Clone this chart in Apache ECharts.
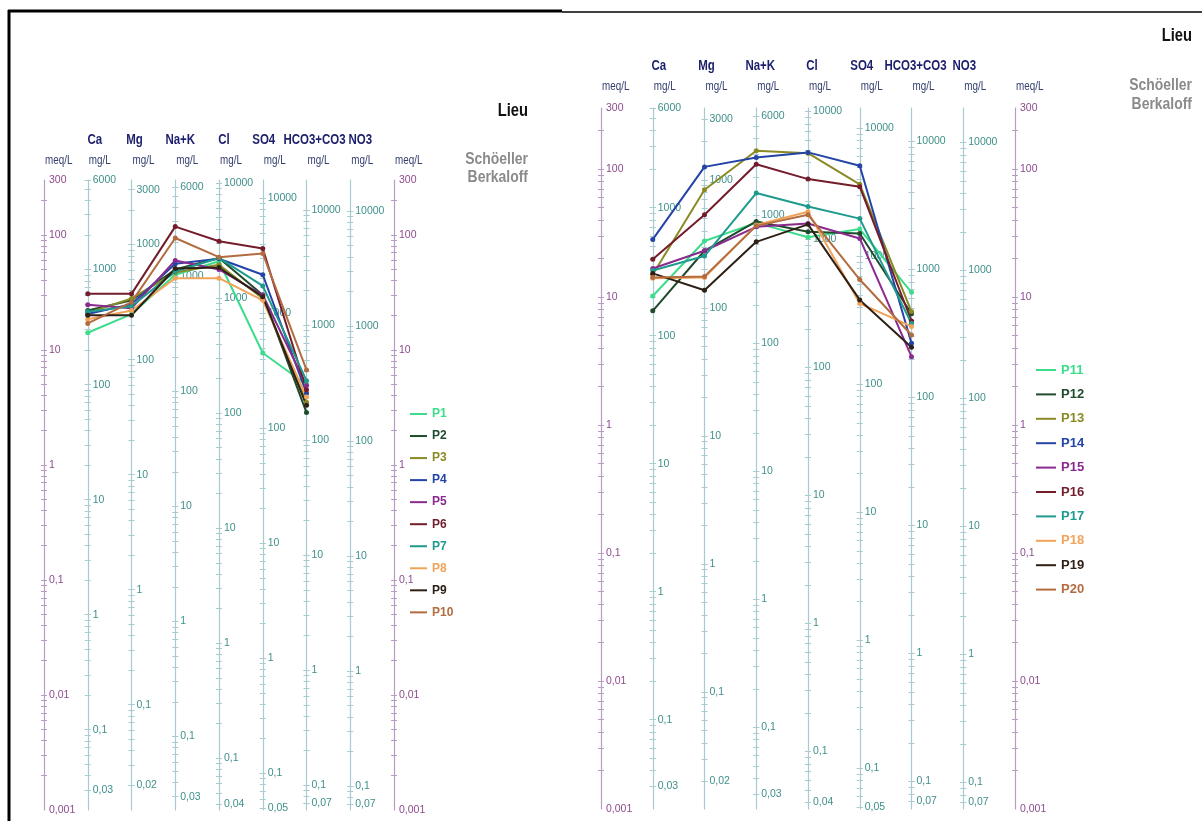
<!DOCTYPE html>
<html><head><meta charset="utf-8">
<script src="https://cdn.jsdelivr.net/npm/echarts@6/dist/echarts.min.js"></script>
<style>html,body{margin:0;padding:0;background:#fff}#c{width:1202px;height:821px}</style>
</head><body><div id="c"></div>
<script>
// ---------- DATA ----------
const ions = ['Ca', 'Mg', 'Na+K', 'Cl', 'SO4', 'HCO3+CO3', 'NO3'];
const categories = ['meqL', 'Ca', 'Mg', 'Na+K', 'Cl', 'SO4', 'HCO3+CO3', 'NO3', 'meqR'];
const units = ['meq/L', 'mg/L', 'mg/L', 'mg/L', 'mg/L', 'mg/L', 'mg/L', 'mg/L', 'meq/L'];
const mgPerMeq = [20.04, 12.15, 23.0, 35.45, 48.03, 61.02, 62.0];
const meqLabels = [300, 100, 10, 1, 0.1, 0.01, 0.001];
const caLabels = [6000, 1000, 100, 10, 1, 0.1, 0.03];
const mgLabels = [3000, 1000, 100, 10, 1, 0.1, 0.02];
const naLabels = [6000, 1000, 100, 10, 1, 0.1, 0.03];
const clLabels = [10000, 1000, 100, 10, 1, 0.1, 0.04];
const so4Labels = [10000, 1000, 100, 10, 1, 0.1, 0.05];
const hco3Labels = [10000, 1000, 100, 10, 1, 0.1, 0.07];
const no3Labels = [10000, 1000, 100, 10, 1, 0.1, 0.07];
const ionLabels = [caLabels, mgLabels, naLabels, clLabels, so4Labels, hco3Labels, no3Labels];

// meq/L values: Ca, Mg, Na+K, Cl, SO4, HCO3+CO3 (NO3 not measured)
const P1 = [14.1, 20.5, 45, 59, 9.4, 5.0];
const P2 = [22, 27, 50, 63, 30, 2.85];
const P3 = [21, 28, 47, 55, 28, 3.5];
const P4 = [20.5, 25, 56, 62, 45, 4.2];
const P5 = [24.7, 23, 60, 50, 30, 4.9];
const P6 = [30.7, 30.7, 118, 88, 76, 4.5];
const P7 = [21.5, 24, 48, 63, 36, 5.4];
const P8 = [18.5, 22, 42, 42, 27, 3.9];
const P9 = [20, 20, 51, 52, 29, 3.3];
const P10 = [17, 26, 94, 64, 69, 6.7];
const P11 = [10.2, 27.4, 38, 29.3, 34, 10.9];
const P12 = [7.8, 23, 39, 32.4, 31.4, 7.4];
const P13 = [15, 69, 139, 133, 76, 7.7];
const P14 = [28.2, 104, 123, 135, 106, 4.35];
const P15 = [16.7, 23, 35.4, 37.6, 28.7, 3.42];
const P16 = [19.7, 44, 109, 83.5, 72.8, 6.5];
const P17 = [16.1, 20.9, 65, 51, 41, 6.2];
const P18 = [14, 14.2, 36.5, 46.4, 8.9, 5.9];
const P19 = [15.3, 11.3, 27, 37, 9.5, 4.05];
const P20 = [14.2, 14.5, 36, 44, 13.7, 5.05];

const leftNames = ['P1','P2','P3','P4','P5','P6','P7','P8','P9','P10'];
const leftValues = [P1,P2,P3,P4,P5,P6,P7,P8,P9,P10];
const rightNames = ['P11','P12','P13','P14','P15','P16','P17','P18','P19','P20'];
const rightValues = [P11,P12,P13,P14,P15,P16,P17,P18,P19,P20];
const palette = ['#3ddc8c','#1f4a2c','#8a8a24','#2344a6','#8a2a8e','#731c2c','#1f9a8e','#f2a35a','#2e2016','#b36c40'];

// ---------- STYLE ----------
const FONT = "'Liberation Sans',Arial,sans-serif";
const NARROW = 0.82;
const meqLine = '#b89cc4', meqText = '#8c4a8c';
const mgLine = '#a7cbd0', mgText = '#3f8f8b';

function logTicks(min, max) {
  const out = [];
  for (let e = -4; e <= 5; e++) {
    for (let k = 1; k <= 9; k++) {
      const v = k * Math.pow(10, e);
      if (v >= min * 1.0001 && v <= max * 0.9999) out.push(+v.toPrecision(6));
    }
  }
  return out;
}
function fmt(v) {
  const r = parseFloat(Number(v).toPrecision(6));
  return String(r).replace('.', ',');
}
function narrowText(x, y, text, font, fill, align) {
  return { type: 'text', x: x, y: y, scaleX: NARROW, z: 10,
    style: { text: text, font: font, fill: fill, align: align || 'center', verticalAlign: 'middle' } };
}

const option = {
  animation: false,
  backgroundColor: '#ffffff',
  textStyle: { fontFamily: FONT },
  grid: [], xAxis: [], yAxis: [], series: [], legend: [], graphic: []
};
const graphics = [];

function buildPanel(g, left, width, top, height, names, values, P) {
  option.grid.push({ left: left, top: top, width: width, height: height, outerBoundsMode: 'none', containLabel: false });
  const spacing = width / 8;
  const xBase = option.xAxis.length;
  option.xAxis.push({
    type: 'category', gridIndex: g, data: categories, boundaryGap: false, position: 'top',
    axisLine: { show: false }, axisTick: { show: false }, splitLine: { show: false }, axisLabel: { show: false }
  });
  // header rows (ion names and units), aligned on the axis columns
  categories.forEach((c, i) => {
    const ax = left + i * spacing;
    const k = ions.indexOf(c);
    if (k >= 0) graphics.push(narrowText(ax + P.shift[k], P.nameY, c, 'bold 14px ' + FONT, '#1c1f6b', 'center'));
    graphics.push(narrowText(ax + 1, P.unitY, units[i], '12px ' + FONT, '#34406e', 'left'));
  });
  const yBase = option.yAxis.length;
  for (let i = 0; i < 9; i++) {
    const isMeq = (i === 0 || i === 8);
    const f = isMeq ? 1 : mgPerMeq[i - 1];
    const labels = isMeq ? meqLabels : ionLabels[i - 1];
    const min = 0.001 * f, max = 300 * f;
    const ticks = logTicks(min, max).concat(labels.filter(v => v > min && v < max));
    const lc = isMeq ? meqLine : mgLine, tc = isMeq ? meqText : mgText;
    const pos = i === 8 ? 'right' : 'left';
    const off = i === 8 ? 0 : -i * spacing;
    option.yAxis.push({
      type: 'log', gridIndex: g, min: min, max: max, position: pos, offset: off,
      axisLine: { show: true, lineStyle: { color: lc, width: 1.2 } },
      axisTick: { show: true, inside: false, length: 3, customValues: ticks, lineStyle: { color: lc, width: 1 } },
      axisLabel: { show: false }, splitLine: { show: false }, minorTick: { show: false }
    });
    option.yAxis.push({
      type: 'log', gridIndex: g, min: min, max: max, position: pos, offset: off,
      axisLine: { show: false },
      axisTick: { show: true, inside: true, length: 3, customValues: ticks, lineStyle: { color: lc, width: 1 } },
      axisLabel: { show: true, inside: i !== 8, margin: 5, customValues: labels, color: tc, fontSize: 10.5, fontFamily: FONT,
        formatter: fmt, showMinLabel: true, showMaxLabel: true, hideOverlap: false },
      splitLine: { show: false }, minorTick: { show: false }
    });
  }
  const legendData = [];
  names.forEach((n, k) => {
    option.series.push({
      name: n, type: 'line', xAxisIndex: xBase, yAxisIndex: yBase,
      data: values[k].map((v, j) => [ions[j], v]),
      color: palette[k], lineStyle: { width: 2, color: palette[k] },
      itemStyle: { color: palette[k] },
      symbol: 'circle', symbolSize: 5, showSymbol: true, z: 5
    });
    legendData.push({ name: n, textStyle: { color: palette[k] } });
  });
  option.legend.push({
    data: legendData, orient: 'vertical', left: P.left, top: P.top,
    icon: 'rect', itemWidth: P.iw, itemHeight: 2, itemGap: P.gap, padding: 0,
    selectedMode: false,
    textStyle: { fontWeight: 'bold', fontSize: P.fs, lineHeight: 14, fontFamily: FONT }
  });
}

buildPanel(0, 44, 350, 180, 630, leftNames, leftValues,
  { left: 410, top: 407, iw: 17, gap: 8.04, fs: 12, nameY: 140, unitY: 161, shift: [7, 3, 5, 5, 1, 8, 10] });
buildPanel(1, 601, 414, 108, 701, rightNames, rightValues,
  { left: 1036, top: 363, iw: 20, gap: 10.4, fs: 13, nameY: 66, unitY: 87, shift: [6, 2, 4, 4, 2, 4, 1] });

// titles and frame
option.graphic = graphics.concat([
  { type: 'line', shape: { x1: 9, y1: 10, x2: 9, y2: 821 }, style: { stroke: '#000', lineWidth: 3 } },
  { type: 'line', shape: { x1: 8, y1: 11, x2: 562, y2: 11 }, style: { stroke: '#000', lineWidth: 3 } },
  { type: 'line', shape: { x1: 562, y1: 12, x2: 1202, y2: 12 }, style: { stroke: '#000', lineWidth: 1.5 } },
  narrowText(528, 111, 'Lieu', 'bold 18px ' + FONT, '#111', 'right'),
  narrowText(528, 159, 'Schöeller', 'bold 17px ' + FONT, '#8a8a8a', 'right'),
  narrowText(528, 177, 'Berkaloff', 'bold 17px ' + FONT, '#8a8a8a', 'right'),
  narrowText(1192, 36, 'Lieu', 'bold 18px ' + FONT, '#111', 'right'),
  narrowText(1192, 85, 'Schöeller', 'bold 17px ' + FONT, '#8a8a8a', 'right'),
  narrowText(1192, 104, 'Berkaloff', 'bold 17px ' + FONT, '#8a8a8a', 'right')
]);

const chart = echarts.init(document.getElementById('c'), null, { renderer: 'canvas' });
chart.setOption(option);
</script></body></html>
